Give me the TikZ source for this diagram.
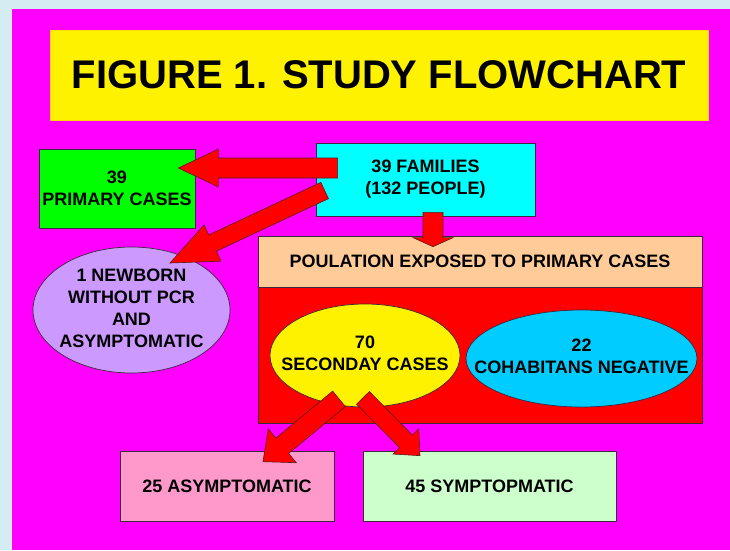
\documentclass[tikz,border=0pt]{standalone}
\usepackage{fontspec}
\setmainfont{Liberation Sans}
\usetikzlibrary{shapes.geometric,calc}

\definecolor{paleblue}{HTML}{D6ECF3}
\definecolor{pagemagenta}{HTML}{FF00FF}
\definecolor{brightgreen}{HTML}{00FF00}
\definecolor{aqua}{HTML}{00FFFF}
\definecolor{lilac}{HTML}{CC99FF}
\definecolor{peach}{HTML}{FFCC99}
\definecolor{skyblue}{HTML}{00CCFF}
\definecolor{rose}{HTML}{FF99CC}
\definecolor{mint}{HTML}{CCFFCC}
\definecolor{edge}{HTML}{3C2A3C}
\definecolor{arrowedge}{HTML}{5A1A1A}

\newcommand{\labelfont}{\fontsize{18}{22}\selectfont\bfseries}
\newcommand{\ovaltext}[1]{\makebox[0pt]{\begin{tabular}{@{}c@{}}#1\end{tabular}}}
% block arrow: from, to, shaft half width, head half width, head length
\newcommand{\blockarrow}[5]{%
    \coordinate (ba-h) at ($(#2)!#5pt!(#1)$);
    \draw[bigarrow] ($(#1)!#3pt!90:(#2)$) -- ($(ba-h)!#3pt!90:(#2)$) -- ($(ba-h)!#4pt!90:(#2)$) -- (#2)
        -- ($(ba-h)!#4pt!-90:(#2)$) -- ($(ba-h)!#3pt!-90:(#2)$) -- ($(#1)!#3pt!-90:(#2)$) -- cycle;}

\begin{document}
\begin{tikzpicture}[x=1pt,y=-1pt,
    box/.style={draw=edge,line width=0.7pt,inner sep=0pt,align=center,font=\labelfont},
    oval/.style={ellipse,draw=edge,line width=0.7pt,inner sep=0pt,font=\labelfont},
    bigarrow/.style={fill=red,draw=arrowedge,line width=0.6pt,line join=miter}]
    \useasboundingbox (0,0) rectangle (730,550);
    \fill[paleblue] (0,0) rectangle (730,550);
    \fill[pagemagenta] (12,9) rectangle (730,550);

    \node[box,draw=yellow!80!orange,line width=0.4pt,fill=yellow,minimum width=658,minimum height=90,font=\fontsize{40}{48}\selectfont\bfseries] (title) at (379,75) {FIGURE 1. STUDY FLOWCHART};

    \node[box,fill=brightgreen,minimum width=156,minimum height=79] (primary) at (117,188.5) {39\\PRIMARY CASES};
    \node[box,fill=aqua,minimum width=219,minimum height=73] (families) at (425.5,179.5) {39 FAMILIES\\(132 PEOPLE)};
    \node[oval,fill=lilac,minimum width=197,minimum height=126] (newborn) at (131.5,310) {\ovaltext{1 NEWBORN\\WITHOUT PCR\\AND\\ASYMPTOMATIC}};

    % exposed population
    \node[box,fill=peach,minimum width=444,minimum height=51] (exposed) at (480,261.5) {POULATION EXPOSED TO PRIMARY CASES};
    \node[box,fill=red,minimum width=444,minimum height=136,anchor=north] (exposedbody) at (exposed.south) {};
    \node[oval,fill=yellow,minimum width=190,minimum height=103] (secondary) at (365,355.5) {\ovaltext{70\\SECONDAY CASES}};
    \node[oval,fill=skyblue,minimum width=231,minimum height=97] (negative) at (581.5,358.5) {\ovaltext{22\\COHABITANS NEGATIVE}};

    \node[box,fill=rose,minimum width=214,minimum height=70] (asympt) at (227,486) {25 ASYMPTOMATIC};
    \node[box,fill=mint,minimum width=253,minimum height=70] (sympt) at (489.5,486) {45 SYMPTOPMATIC};

    % arrow ends
    \coordinate (a1s) at ($(families.west)+(22,-11.5)$);
    \coordinate (a1e) at ($(primary.east)+(-17,-20.5)$);
    \coordinate (a2s) at ($(families.west)+(9,11)$);
    \coordinate (a2e) at ($(newborn.center)+(38.5,-47)$);
    \coordinate (a3s) at ($(families.south)+(7.5,-4)$);
    \coordinate (a3e) at ($(exposed.north)+(-47,11)$);
    \coordinate (a4s) at ($(secondary.south)+(-26,-8.5)$);
    \coordinate (a4e) at ($(asympt.north)+(36,11)$);
    \coordinate (a5s) at ($(secondary.south)+(-2,-9.5)$);
    \coordinate (a5e) at ($(sympt.north)+(-69.5,5)$);

    \foreach \ta/\tb/\wa/\wb/\wl in {a1s/a1e/10/19/40,a2s/a2e/9/20/47,a3s/a3e/10/20/9,a4s/a4e/10/22/25,a5s/a5e/9/18/20}
        \blockarrow{\ta}{\tb}{\wa}{\wb}{\wl};
\end{tikzpicture}
\end{document}
